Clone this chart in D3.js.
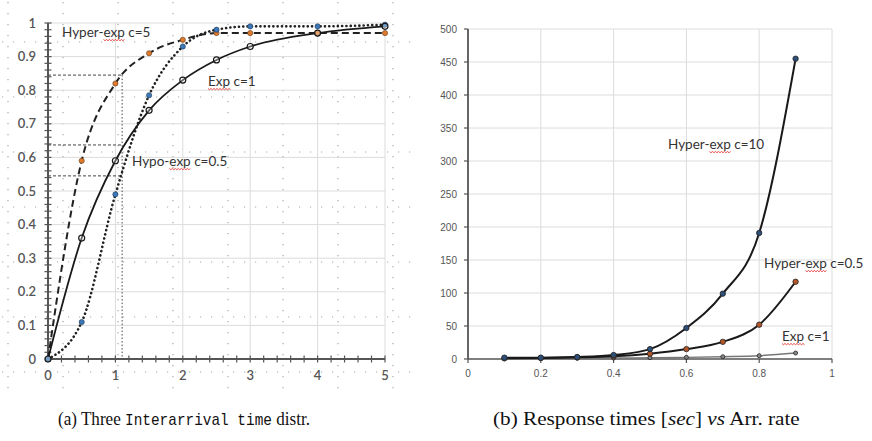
<!DOCTYPE html>
<html>
<head>
<meta charset="utf-8">
<script src="https://cdn.jsdelivr.net/npm/d3@7"></script>
<style>
  body { margin: 0; background: #fff; }
  svg { display: block; }
</style>
</head>
<body>
<svg id="fig" width="872" height="441"></svg>
<script>
// ---- data : (a) interarrival time CDFs
const cdfX = [0, 0.5, 1, 1.5, 2, 2.5, 3, 4, 5];
const expC1 = [0, 0.36, 0.59, 0.74, 0.83, 0.89, 0.93, 0.97, 0.99];
const hyperC5 = [0, 0.59, 0.82, 0.91, 0.95, 0.97, 0.97, 0.97, 0.97];
const hypoC05 = [0, 0.11, 0.49, 0.785, 0.93, 0.98, 0.99, 0.99, 0.995];
const refX = 1.1;
const refY = [0.845, 0.637, 0.545];
const cdfTicksY = [0, 0.1, 0.2, 0.3, 0.4, 0.5, 0.6, 0.7, 0.8, 0.9, 1];
const cdfTicksX = [0, 1, 2, 3, 4, 5];

// ---- data : (b) response times vs arrival rate
const rateX = [0.1, 0.2, 0.3, 0.4, 0.5, 0.6, 0.7, 0.8, 0.9];
const rtHyperC10 = [2, 2, 3, 6, 15, 47, 99, 191, 455];
const rtHyperC05 = [1, 1.5, 2.5, 4, 8, 15, 26, 52, 117];
const rtExpC1 = [0.5, 0.8, 1, 1.5, 2, 2.5, 3.5, 5, 9];
const rtTicksY = [0, 50, 100, 150, 200, 250, 300, 350, 400, 450, 500];
const rtTicksX = [0, 0.2, 0.4, 0.6, 0.8, 1];

const svg = d3.select("#fig");
svg.append("rect").attr("width", 872).attr("height", 441).attr("fill", "#fff");

const calibri = "Lato, 'Open Sans', sans-serif";
const gridCol = "#dcdcdc";

// red spell-check squiggle under part of a label
function squiggle(textSel, start, len) {
  const node = textSel.node();
  const x0 = +textSel.attr("x") + node.getSubStringLength(0, start);
  const w = node.getSubStringLength(start, len);
  const y0 = +textSel.attr("y") + 2.5;
  const pts = [];
  for (let i = 0; i <= Math.round(w / 1.5); i++) pts.push([x0 + i * 1.5, y0 + (i % 2 ? 1.2 : 0)]);
  svg.append("path").attr("d", d3.line()(pts))
    .attr("fill", "none").attr("stroke", "#e02020").attr("stroke-width", 0.8);
}

// ================= (a) =================
const ga = svg.append("g");

// background dotted guide grid of the drawing canvas
const guideX = d3.range(8, 420, 55);
const guideY = d3.range(42, 400, 55);
ga.selectAll(".gvx").data(guideX).join("line")
  .attr("x1", d => d).attr("x2", d => d).attr("y1", 2).attr("y2", 398)
  .attr("stroke", "#a8a8a8").attr("stroke-width", 1.2).attr("stroke-dasharray", "1.2,9.8");
ga.selectAll(".gvy").data(guideY).join("line")
  .attr("y1", d => d).attr("y2", d => d).attr("x1", 2).attr("x2", 420)
  .attr("stroke", "#a8a8a8").attr("stroke-width", 1.2).attr("stroke-dasharray", "1.2,9.8");

const xa = d3.scaleLinear().domain([0, 5]).range([48, 385]);
const ya = d3.scaleLinear().domain([0, 1]).range([359, 23]);

// chart gridlines
ga.selectAll(".gx").data(cdfTicksX.slice(1)).join("line")
  .attr("x1", d => xa(d)).attr("x2", d => xa(d)).attr("y1", ya(1)).attr("y2", ya(0))
  .attr("stroke", gridCol).attr("stroke-width", 1);
ga.selectAll(".gy").data(cdfTicksY.slice(1)).join("line")
  .attr("y1", d => ya(d)).attr("y2", d => ya(d)).attr("x1", xa(0)).attr("x2", xa(5))
  .attr("stroke", gridCol).attr("stroke-width", 1);

// axes with crossing minor ticks
const axA = ga.append("g").attr("stroke", "#555");
axA.append("line").attr("x1", xa(0)).attr("x2", xa(0)).attr("y1", ya(1)).attr("y2", ya(0)).attr("stroke-width", 2);
axA.append("line").attr("x1", xa(0)).attr("x2", xa(5)).attr("y1", ya(0)).attr("y2", ya(0)).attr("stroke-width", 2);
axA.selectAll(".ty").data(d3.range(0, 1.001, 0.02)).join("line")
  .attr("x1", xa(0) - 3.5).attr("x2", xa(0) + 3.5).attr("y1", d => ya(d)).attr("y2", d => ya(d)).attr("stroke-width", 1.2);
axA.selectAll(".tx").data(d3.range(0, 5.001, 0.2)).join("line")
  .attr("y1", ya(0) - 3.5).attr("y2", ya(0) + 3.5).attr("x1", d => xa(d)).attr("x2", d => xa(d)).attr("stroke-width", 1.2);

ga.selectAll(".ly").data(cdfTicksY).join("text")
  .attr("x", 36).attr("y", d => ya(d) + 4.5).attr("text-anchor", "end")
  .attr("font-family", calibri).attr("font-size", 13).attr("font-weight", 600).attr("fill", "#555")
  .text(d => d3.format("~g")(d));
ga.selectAll(".lx").data(cdfTicksX).join("text")
  .attr("x", d => xa(d)).attr("y", 380).attr("text-anchor", "middle")
  .attr("font-family", calibri).attr("font-size", 13).attr("font-weight", 600).attr("fill", "#555")
  .text(d => d);

// reference lines at x = 1.1
ga.selectAll(".rh").data(refY).join("line")
  .attr("x1", xa(0)).attr("x2", xa(refX)).attr("y1", d => ya(d)).attr("y2", d => ya(d))
  .attr("stroke", "#444").attr("stroke-width", 1).attr("stroke-dasharray", "3,2");
ga.append("line").attr("x1", xa(refX)).attr("x2", xa(refX)).attr("y1", ya(refY[0])).attr("y2", ya(0))
  .attr("stroke", "#444").attr("stroke-width", 1).attr("stroke-dasharray", "1.5,2");

const lineA = d3.line().x((d, i) => xa(cdfX[i])).y(d => ya(d)).curve(d3.curveMonotoneX);
ga.append("path").attr("d", lineA(hyperC5)).attr("fill", "none")
  .attr("stroke", "#222").attr("stroke-width", 2).attr("stroke-dasharray", "7,4");
ga.append("path").attr("d", lineA(hypoC05)).attr("fill", "none")
  .attr("stroke", "#222").attr("stroke-width", 2.6).attr("stroke-dasharray", "0.1,4.2").attr("stroke-linecap", "round");
ga.append("path").attr("d", lineA(expC1)).attr("fill", "none")
  .attr("stroke", "#1a1a1a").attr("stroke-width", 1.8);

ga.selectAll(".mh").data(hyperC5).join("circle")
  .attr("cx", (d, i) => xa(cdfX[i])).attr("cy", d => ya(d)).attr("r", 2.6)
  .attr("fill", "#e07a2a").attr("stroke", "#5a3a20").attr("stroke-width", 0.6);
ga.selectAll(".mo").data(hypoC05).join("circle")
  .attr("cx", (d, i) => xa(cdfX[i])).attr("cy", d => ya(d)).attr("r", 2.6)
  .attr("fill", "#3d78b8").attr("stroke", "#1d3550").attr("stroke-width", 0.6);
ga.selectAll(".me").data(expC1).join("circle")
  .attr("cx", (d, i) => xa(cdfX[i])).attr("cy", d => ya(d)).attr("r", 3)
  .attr("fill", "#fff").attr("fill-opacity", 0.3).attr("stroke", "#1a1a1a").attr("stroke-width", 1.2);

const labA = [
  { t: "Hyper-exp c=5", x: 62, y: 37, s: 6, n: 3 },
  { t: "Exp c=1", x: 208, y: 86, s: 0, n: 3 },
  { t: "Hypo-exp c=0.5", x: 132, y: 166, s: 5, n: 3 }
];
labA.forEach(l => {
  const t = ga.append("text").attr("x", l.x).attr("y", l.y)
    .attr("font-family", calibri).attr("font-size", 13.5).attr("fill", "#333").text(l.t);
  squiggle(t, l.s, l.n);
});

// ================= (b) =================
const gb = svg.append("g");
const xb = d3.scaleLinear().domain([0, 1]).range([468, 832]);
const yb = d3.scaleLinear().domain([0, 500]).range([359, 29]);

gb.selectAll(".gx").data(rtTicksX.slice(1)).join("line")
  .attr("x1", d => xb(d)).attr("x2", d => xb(d)).attr("y1", yb(500)).attr("y2", yb(0))
  .attr("stroke", gridCol).attr("stroke-width", 1);
gb.selectAll(".gy").data(rtTicksY.slice(1)).join("line")
  .attr("y1", d => yb(d)).attr("y2", d => yb(d)).attr("x1", xb(0)).attr("x2", xb(1))
  .attr("stroke", gridCol).attr("stroke-width", 1);

const axB = gb.append("g").attr("stroke", "#555");
axB.append("line").attr("x1", xb(0)).attr("x2", xb(0)).attr("y1", yb(500)).attr("y2", yb(0)).attr("stroke-width", 1.8);
axB.append("line").attr("x1", xb(0)).attr("x2", xb(1)).attr("y1", yb(0)).attr("y2", yb(0)).attr("stroke-width", 1.5);
axB.selectAll(".ty").data(rtTicksY).join("line")
  .attr("x1", xb(0) - 4).attr("x2", xb(0)).attr("y1", d => yb(d)).attr("y2", d => yb(d)).attr("stroke-width", 1.2);
axB.selectAll(".tx").data(rtTicksX).join("line")
  .attr("y1", yb(0)).attr("y2", yb(0) + 4).attr("x1", d => xb(d)).attr("x2", d => xb(d)).attr("stroke-width", 1.2);

gb.selectAll(".ly").data(rtTicksY).join("text")
  .attr("x", 457).attr("y", d => yb(d) + 3.5).attr("text-anchor", "end")
  .attr("font-family", "'Liberation Sans', Arial, sans-serif").attr("font-size", 10).attr("fill", "#555")
  .text(d => d);
gb.selectAll(".lx").data(rtTicksX).join("text")
  .attr("x", d => xb(d)).attr("y", 377).attr("text-anchor", "middle")
  .attr("font-family", "'Liberation Sans', Arial, sans-serif").attr("font-size", 10).attr("fill", "#555")
  .text(d => d3.format("~g")(d));

const lineB = d3.line().x((d, i) => xb(rateX[i])).y(d => yb(d)).curve(d3.curveMonotoneX);
const seriesB = [
  { v: rtExpC1, stroke: "#777", w: 1.4, fill: "#888", r: 2 },
  { v: rtHyperC05, stroke: "#1a1a1a", w: 2, fill: "#b0562a", r: 2.7 },
  { v: rtHyperC10, stroke: "#1a1a1a", w: 2, fill: "#2d4f78", r: 2.7 }
];
seriesB.forEach(s => {
  gb.append("path").attr("d", lineB(s.v)).attr("fill", "none")
    .attr("stroke", s.stroke).attr("stroke-width", s.w);
  gb.selectAll(null).data(s.v).join("circle")
    .attr("cx", (d, i) => xb(rateX[i])).attr("cy", d => yb(d)).attr("r", s.r)
    .attr("fill", s.fill).attr("stroke", "#222").attr("stroke-width", 0.8);
});

const labB = [
  { t: "Hyper-exp c=10", x: 668, y: 149, s: 6, n: 3 },
  { t: "Hyper-exp c=0.5", x: 764, y: 268, s: 6, n: 3 },
  { t: "Exp c=1", x: 782, y: 341, s: 0, n: 3 }
];
labB.forEach(l => {
  const t = gb.append("text").attr("x", l.x).attr("y", l.y)
    .attr("font-family", calibri).attr("font-size", 13.5).attr("fill", "#333").text(l.t);
  squiggle(t, l.s, l.n);
});

// ================= captions =================
// the captions are drawn at natural size, then squeezed horizontally to the reference width
const serif = "'Liberation Serif', 'Times New Roman', serif";
const mono = "'Liberation Mono', 'DejaVu Sans Mono', monospace";
function caption(x, y, width, size, parts) {
  const t = svg.append("text").attr("x", 0).attr("y", 0)
    .attr("font-family", serif).attr("font-size", size).attr("fill", "#111");
  parts.forEach(p => {
    const s = t.append("tspan").text(p.t);
    if (p.mono) s.attr("font-family", mono).attr("font-size", size - 3);
    if (p.it) s.attr("font-style", "italic");
  });
  const w = t.node().getComputedTextLength();
  t.attr("transform", `translate(${x},${y}) scale(${width / w},1)`);
}
caption(58, 425, 252, 19, [
  { t: "(a) Three " }, { t: "Interarrival time", mono: true }, { t: " distr." }
]);
caption(493, 425, 307, 19, [
  { t: "(b) Response times [" }, { t: "sec", it: true }, { t: "] " },
  { t: "vs", it: true }, { t: " Arr. rate" }
]);
</script>
</body>
</html>
